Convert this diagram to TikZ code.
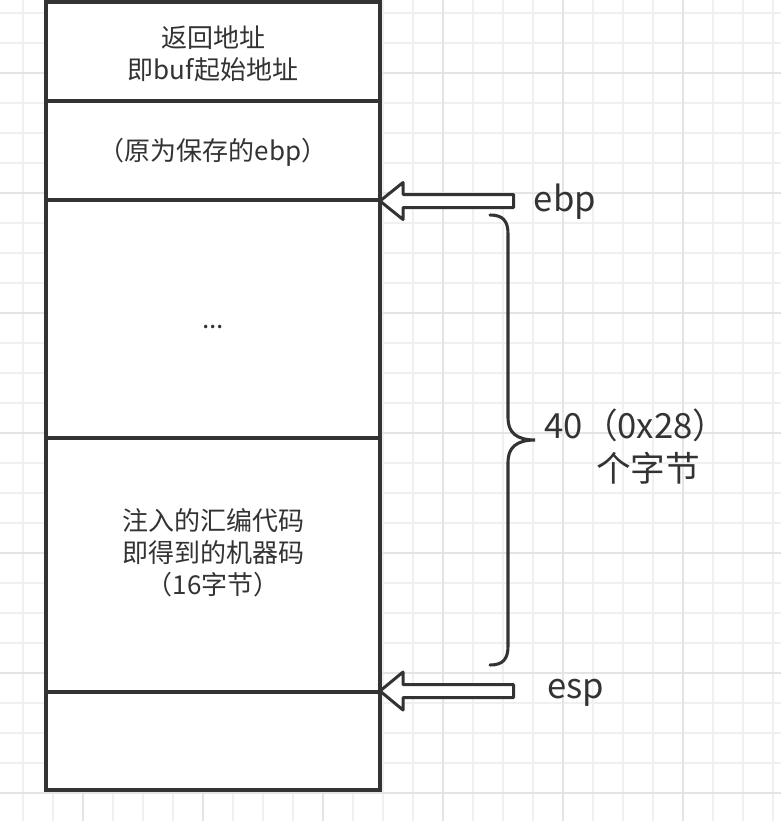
\documentclass[tikz,border=0pt]{standalone}
\usepackage{fontspec}
\setmainfont{Noto Sans CJK SC}
\definecolor{ink}{HTML}{333333}
\definecolor{gridminor}{HTML}{F0F0F0}
\definecolor{gridmajor}{HTML}{E4E4E4}
\begin{document}
\begin{tikzpicture}[x=0.75pt,y=-0.75pt,
  cell/.style={draw=ink, line width=3pt, fill=white, minimum width=250.5pt,
               inner sep=0pt, outer sep=0pt, anchor=north west},
  txt/.style={text=ink, font=\fontsize{19.5}{24}\selectfont, align=center, inner sep=0pt},
  bigtxt/.style={text=ink, font=\fontsize{26}{32}\selectfont, align=center, inner sep=0pt},
  blockarrow/.style={draw=ink, line width=2.25pt, fill=white, line join=round},
  bracestyle/.style={draw=ink, line width=2.3pt, line cap=round}]
\useasboundingbox (0,0) rectangle (781,821);
% background grid
\foreach \k in {0,...,25} \draw[gridminor, line width=1.2pt] (23+30*\k,0) -- (23+30*\k,821);
\foreach \k in {0,...,27} \draw[gridminor, line width=1.2pt] (0,13+30*\k) -- (781,13+30*\k);
\foreach \k in {0,...,5} \draw[gridmajor, line width=1.2pt] (83+120*\k,0) -- (83+120*\k,821);
\foreach \k in {0,...,6} \draw[gridmajor, line width=1.2pt] (0,73+120*\k) -- (781,73+120*\k);
% stack cells
\node[cell, minimum height=74.25pt] (ret) at (46,2) {};
\node[cell, minimum height=74.25pt] (saved) at (46,101) {};
\node[cell, minimum height=178.5pt] (dots) at (46,200) {};
\node[cell, minimum height=190.5pt] (code) at (46,438) {};
\node[cell, minimum height=73.5pt] (low) at (46,692) {};
\draw[ink, line width=3.6pt] (saved.south west) -- (saved.south east);
% cell texts
\node[txt] (rett) at (213,54) {返回地址\\即buf起始地址};
\node[txt] (savedt) at (213,152) {（原为保存的ebp）};
\node[txt] (dotst) at (213,327) {...};
\node[txt] (codet) at (213,553) {注入的汇编代码\\即得到的机器码\\（16字节）};
% pointer arrows
\coordinate (ebptip) at (380,201);
\coordinate (esptip) at (380,691);
\draw[blockarrow, shift={(ebptip)}] (0,0) -- (23,-18.5) -- (23,-6.5) -- (133.5,-6.5)
  -- (133.5,6.5) -- (23,6.5) -- (23,18.5) -- cycle;
\draw[blockarrow, shift={(esptip)}] (0,0) -- (23,-19) -- (23,-6.5) -- (133.5,-6.5)
  -- (133.5,6.5) -- (23,6.5) -- (23,19) -- cycle;
\node[bigtxt] (ebpt) at (565,202) {ebp};
\node[bigtxt] (espt) at (576,693) {esp};
% brace
\coordinate (btop) at (490,215);
\coordinate (btip) at (535,440);
\coordinate (bbot) at (490,665);
\draw[bracestyle] (btop) .. controls (503,215) and (508,221) .. (508,234) -- (508,418)
  .. controls (508,432) and (516,440) .. (btip)
  .. controls (516,440) and (508,448) .. (508,462) -- (508,646)
  .. controls (508,659) and (503,665) .. (bbot);
\node[bigtxt] (sizea) at (636,425) {40（0x28）};
\node[bigtxt] (sizeb) at (648,468) {个字节};
\end{tikzpicture}
\end{document}
